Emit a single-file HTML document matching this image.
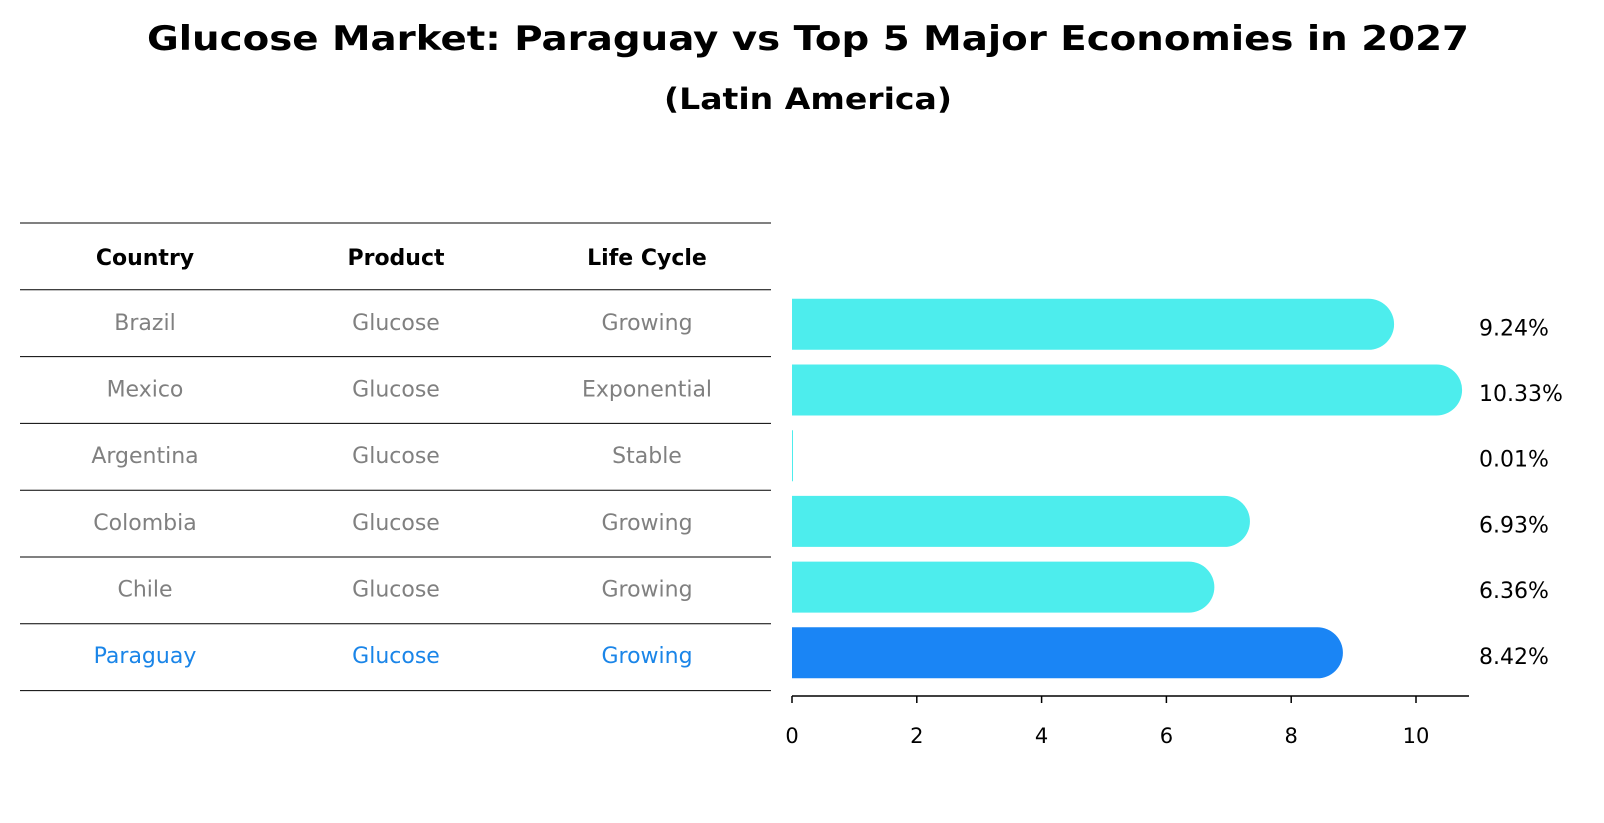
<!DOCTYPE html>
<html><head><meta charset="utf-8"><style>
body{margin:0;background:#fff;font-family:"DejaVu Sans","Liberation Sans",sans-serif;}
#root{position:relative;width:1604px;height:823px;overflow:hidden;}
</style></head><body><div id="root">
<svg id="svg" width="1604" height="823" style="position:absolute;left:0;top:0">
<text x="808" y="50" text-anchor="middle" font-size="34" font-weight="bold" font-family="DejaVu Sans, Liberation Sans, sans-serif" textLength="1322" lengthAdjust="spacingAndGlyphs">Glucose Market: Paraguay vs Top 5 Major Economies in 2027</text>
<text x="808" y="109" text-anchor="middle" font-size="29" font-weight="bold" font-family="DejaVu Sans, Liberation Sans, sans-serif" textLength="288" lengthAdjust="spacingAndGlyphs">(Latin America)</text>
</svg>
</div>
<script>
const countries=["Brazil","Mexico","Argentina","Colombia","Chile","Paraguay"];
const products=["Glucose","Glucose","Glucose","Glucose","Glucose","Glucose"];
const lifeCycles=["Growing","Exponential","Stable","Growing","Growing","Growing"];
const values=[9.24,10.33,0.01,6.93,6.36,8.42];
const xTicks=[0,2,4,6,8,10];
const headers=["Country","Product","Life Cycle"];
const NS="http://www.w3.org/2000/svg";
const svg=document.getElementById('svg');
function mk(tag,attrs,parent){const e=document.createElementNS(NS,tag);for(const k in attrs)e.setAttribute(k,attrs[k]);(parent||svg).appendChild(e);return e;}
const x0=792,pxPer=62.4;
const xs=v=>x0+v*pxPer;
const barC=i=>324.3+65.7*i;
const rowC=i=>322+66.6*i;
const colX=[145,396,647];
const font='"DejaVu Sans","Liberation Sans",sans-serif';
for(let i=0;i<=7;i++){
  const y=223+i*66.8;
  const l=mk('line',{x1:20,x2:771,y1:y,y2:y,stroke:'#000','stroke-width':1});
  
  
}
headers.forEach((h,j)=>{
  const t=mk('text',{x:colX[j],y:265,'text-anchor':'middle','font-size':22,'font-weight':'bold','font-family':font});
  t.textContent=h;
  
  
});
countries.forEach((c,i)=>{
  const y=rowC(i)+8;
  const col=c==="Paraguay"?'#1a85e8':'#808080';
  [c,products[i],lifeCycles[i]].forEach((txt,j)=>{
    const t=mk('text',{x:colX[j],y:y,'text-anchor':'middle','font-size':22,fill:col,'font-family':font});
    t.textContent=txt;
    
    
  });
  const col2=c==="Paraguay"?'#1a85f5':'#4deded';
  const h=51,top=barC(i)-h/2,w=xs(values[i])-x0;
  const p=mk('path',{fill:col2,d:w<1?`M${x0},${top}h1v${h}h-1z`:`M${x0},${top}h${w}a25.5,25.5 0 0 1 0,${h}h${-w}z`});
  
  
  const v=mk('text',{x:1479,y:barC(i)+11,'font-size':22,'font-family':font});
  v.textContent=values[i].toFixed(2)+'%';
  
  
});
const ax=mk('line',{x1:x0,x2:1469,y1:696,y2:696,stroke:'#000','stroke-width':1.5});


xTicks.forEach(v=>{
  const l=mk('line',{x1:xs(v),x2:xs(v),y1:696,y2:703,stroke:'#000','stroke-width':1.5});
  
  
  const t=mk('text',{x:xs(v),y:743,'text-anchor':'middle','font-size':21,'font-family':font});
  t.textContent=v;
  
  
});
</script></body></html>
